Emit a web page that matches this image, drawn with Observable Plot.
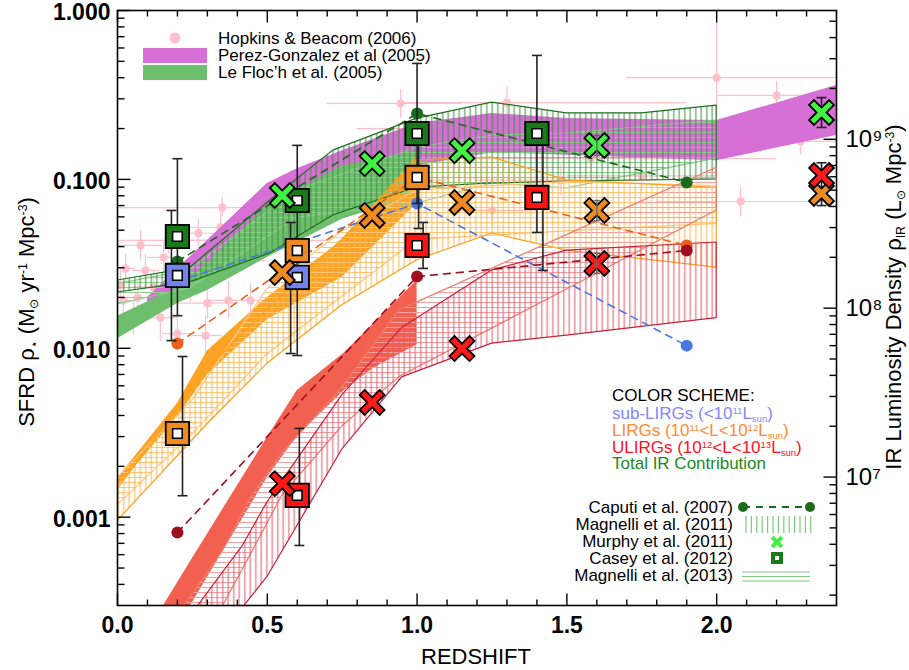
<!DOCTYPE html>
<html><head><meta charset="utf-8">
<script src="https://cdn.jsdelivr.net/npm/d3@7"></script>
<script src="https://cdn.jsdelivr.net/npm/@observablehq/plot@0.6"></script>
<style>
body{margin:0;background:#fff;}
#chart{width:909px;height:670px;}
</style></head><body><div id="chart"></div>
<script>
// ---------------- DATA ----------------
const xMajorTicks = [0, 0.5, 1.0, 1.5, 2.0];
const xMinorTicks = [0.1,0.2,0.3,0.4,0.6,0.7,0.8,0.9,1.1,1.2,1.3,1.4,1.6,1.7,1.8,1.9,2.1,2.2,2.3];
const yMajorTicks = [0.001, 0.01, 0.1, 1];
const yTickLabels = ["0.001", "0.010", "0.100", "1.000"];
const yMinorTicks = [4e-4,5e-4,6e-4,7e-4,8e-4,9e-4,2e-3,3e-3,4e-3,5e-3,6e-3,7e-3,8e-3,9e-3,0.02,0.03,0.04,0.05,0.06,0.07,0.08,0.09,0.2,0.3,0.4,0.5,0.6,0.7,0.8,0.9];
const rightMajorL = [1e7, 1e8, 1e9];
const rightTickLabels = ["10⁷", "10⁸", "10⁹"];
const rightMinorL = [2e6,3e6,4e6,5e6,6e6,7e6,8e6,9e6,2e7,3e7,4e7,5e7,6e7,7e7,8e7,9e7,2e8,3e8,4e8,5e8,6e8,7e8,8e8,9e8,2e9,3e9,4e9,5e9];
const sfrPerL = 1.728e-10;

// Hopkins & Beacom (2006): [z, sfrd, zlo, zhi, slo, shi]
const hopkins = [
  [0.01,0.0237,0.0,0.03,0.019,0.029],[0.02,0.0192,0.0,0.05,0.016,0.023],
  [0.027,0.0297,0.0,0.06,0.024,0.036],[0.053,0.0152,0.02,0.09,0.012,0.019],
  [0.067,0.0200,0.03,0.10,0.016,0.025],[0.077,0.0407,0.0,0.15,0.033,0.050],
  [0.093,0.0289,0.05,0.14,0.023,0.036],[0.12,0.0230,0.05,0.20,0.018,0.029],
  [0.143,0.0152,0.08,0.20,0.011,0.020],[0.154,0.0345,0.10,0.20,0.028,0.042],
  [0.17,0.0435,0.0,0.30,0.036,0.053],[0.20,0.0122,0.15,0.25,0.0095,0.0155],
  [0.244,0.0245,0.20,0.30,0.019,0.031],[0.27,0.0480,0.20,0.35,0.040,0.058],
  [0.294,0.0119,0.25,0.35,0.0092,0.0155],[0.30,0.0185,0.20,0.40,0.015,0.023],
  [0.344,0.0519,0.20,0.50,0.043,0.063],[0.37,0.0192,0.30,0.45,0.015,0.025],
  [0.377,0.0331,0.25,0.50,0.027,0.041],[0.444,0.0192,0.40,0.50,0.015,0.024],
  [0.46,0.0435,0.20,0.70,0.036,0.053],[0.35,0.068,0.0,0.95,0.060,0.078],
  [0.61,0.064,0.40,0.80,0.052,0.080],[0.85,0.099,0.60,1.10,0.080,0.122],
  [0.945,0.282,0.70,1.15,0.23,0.34],[1.0,0.20,0.80,1.20,0.17,0.24],
  [1.25,0.0655,1.10,1.40,0.053,0.080],[1.30,0.285,0.94,1.90,0.23,0.35],
  [1.48,0.099,1.20,1.80,0.080,0.122],[1.58,0.133,0.94,2.20,0.11,0.16],
  [1.75,0.105,1.50,2.00,0.085,0.13],[2.0,0.40,1.70,2.50,0.25,0.95],
  [2.2,0.314,2.0,2.5,0.26,0.38],[2.08,0.074,1.8,2.5,0.06,0.09],
  [2.28,0.168,2.0,2.5,0.14,0.20]
];

// bands: [z, lower, upper]
const perezGonzalez = [[0.10,0.0163,0.0200],[0.30,0.029,0.0435],[0.50,0.055,0.0946],[0.60,0.068,0.1157],[0.75,0.088,0.148],[1.00,0.120,0.214],[1.25,0.144,0.2457],[1.50,0.139,0.229],[2.00,0.129,0.223],[2.40,0.182,0.360]];
const leFloch = [[0.0,0.0114,0.0155],[0.2,0.0184,0.0229],[0.3,0.0220,0.0320],[0.5,0.0345,0.0700],[0.75,0.058,0.120],[1.0,0.080,0.145]];
const lirgSolid = [[0.0,0.00150,0.00170],[0.2,0.00390,0.00471],[0.3,0.00696,0.00965],[0.5,0.01474,0.0200],[0.75,0.0263,0.0435],[1.0,0.0720,0.1383]];
const ulirgSolid = [[0.0,0.0000569,0.000108],[0.1,0.0001125,0.000209],[0.154,0.000163,0.000300],[0.244,0.000300,0.000546],[0.344,0.000593,0.00106],[0.40,0.000869,0.00153],[0.50,0.00172,0.00296],[0.60,0.00301,0.00562],[0.755,0.00558,0.00931],[0.85,0.00755,0.0137],[1.0,0.0105,0.0252]];
const magnelli11Total = [[0,0.0214,0.0252],[0.24,0.0245,0.0297],[0.51,0.0364,0.075],[0.72,0.0612,0.148],[1.0,0.0895,0.229],[1.25,0.0946,0.285],[1.5,0.0972,0.2457],[1.75,0.0985,0.2457],[2.0,0.0999,0.2737]];
const magnelli13Total = [[0,0.0182,0.0240],[0.24,0.0226,0.0289],[0.6,0.0594,0.086],[1.0,0.072,0.154],[1.25,0.0946,0.182],[1.5,0.0884,0.187],[2.0,0.1326,0.223]];
const magnelli11Lirg = [[0,0.000948,0.00146],[0.3,0.00355,0.00752],[0.5,0.00809,0.01695],[0.75,0.0180,0.0439],[1.0,0.0332,0.1298],[1.25,0.0478,0.1348],[1.5,0.0379,0.0986],[2.0,0.0300,0.0892]];
const magnelli13Lirg = [[0,0.001175,0.001706],[0.25,0.00309,0.00492],[0.5,0.00920,0.0224],[0.75,0.0202,0.0492],[1.0,0.0439,0.0861],[1.5,0.0492,0.0965],[2.0,0.0545,0.0913]];
const magnelli11Ulirg = [[0.25,0.000156,0.000268],[0.42,0.000293,0.000684],[0.5,0.000441,0.00122],[0.75,0.00251,0.00526],[0.95,0.00673,0.0132],[1.25,0.01065,0.0289],[1.5,0.01187,0.0379],[2.0,0.01508,0.0423]];
const magnelli13Ulirg = [[0.22,0.000156,0.000293],[0.35,0.000293,0.000623],[0.45,0.000623,0.00134],[0.55,0.00134,0.00239],[0.75,0.00344,0.00583],[0.94,0.00673,0.01672],[1.5,0.0223,0.0468],[2.0,0.0655,0.1173]];

// Caputi et al. (2007): [z, sfrd]
const caputiTotal = [[0.2,0.0327],[1.0,0.2457],[1.9,0.0959]];
const caputiSub = [[0.2,0.0249],[1.0,0.072],[1.9,0.01037]];
const caputiLirg = [[0.2,0.01066],[1.0,0.1027],[1.9,0.0406]];
const caputiUlirg = [[0.2,0.000811],[1.0,0.0266],[1.9,0.0379]];

// Casey et al. (2012): [z, sfrd]
const caseyTotal = [[0.2,0.0459],[0.6,0.075],[1.0,0.187],[1.4,0.187]];
const caseySub = [[0.2,0.027],[0.6,0.0263]];
const caseyLirg = [[0.2,0.00313],[0.6,0.0379],[1.0,0.1027]];
const caseyUlirg = [[0.6,0.001346],[1.0,0.0406],[1.4,0.0782]];
// error bars [z, lo, hi]
const caseyErrors = [[0.2,0.0156,0.1326],[0.18,0.0111,0.0655],[0.217,0.00134,0.00894],[0.6,0.00906,0.159],[0.578,0.00931,0.0556],[0.607,0.00068,0.003355],[1.0,0.072,0.486],[1.005,0.0512,0.2056],[1.02,0.0297,0.0556],[1.4,0.0485,0.542],[1.42,0.0289,0.208]];

// Murphy et al. (2011): [z, sfrd]
const murphyTotal = [[0.55,0.0803],[0.85,0.124],[1.15,0.148],[1.6,0.1588],[2.35,0.249]];
const murphyLirg = [[0.55,0.0281],[0.85,0.0612],[1.15,0.073],[1.6,0.0655],[2.35,0.0826]];
const murphyUlirg = [[0.55,0.00158],[0.85,0.00478],[1.15,0.00996],[1.6,0.0318],[2.35,0.1055]];
const murphyErrorsBig = [[2.35,0.203,0.305],[2.35,0.070,0.1255]];
const murphyErrorsSmall = [[1.6,0.138,0.182],[1.6,0.057,0.075],[1.6,0.0277,0.0365]];

// ---------------- STYLE ----------------
const C = {
  pink: "#ffc0cb", violet: "#d66fd6", green: "#6dbf6d", orange: "#fca326", coral: "#f26150",
  gDark: "#1e6e1e", gLight: "#8fcf8f", gHatch: "#3a8f3a",
  oLine: "#ff9f1a", oHatch: "#ffb347", oLight: "#ffc880",
  rLine: "#cc1f3a", rHatch: "#e35565", rLight: "#f07a6e", rLightHatch: "#f5a0a0",
  capG: "#1c6b1c", capB: "#4a77e0", capO: "#e8601c", capR: "#9e0f22",
  casG: "#1a7a1a", casB: "#7482ee", casO: "#f08a20", casR: "#ff1414",
  murG: "#44f044", murO: "#f08a20", murR: "#ff1a1a"
};
const FONT = "'Liberation Sans', Arial, Helvetica, sans-serif";

const tickSym = (dx, dy) => ({draw(ctx, size){ const r = Math.sqrt(size/Math.PI); ctx.moveTo(0,0); ctx.lineTo(dx*r, dy*r); }});
const capSym = {draw(ctx, size){ const r = Math.sqrt(size/Math.PI); ctx.moveTo(-r,0); ctx.lineTo(r,0); }};
const xSym = {draw(ctx, size){
  const r = Math.sqrt(size/Math.PI), h = r*1.13, w = r*0.28, c = Math.SQRT1_2;
  const pts = [[-w,-h],[w,-h],[w,-w],[h,-w],[h,w],[w,w],[w,h],[-w,h],[-w,w],[-h,w],[-h,-w],[-w,-w]];
  pts.forEach(([x,y],i) => { const X=(x-y)*c, Y=(x+y)*c; i ? ctx.lineTo(X,Y) : ctx.moveTo(X,Y); });
  ctx.closePath();
}};

const band = (data, o) => Plot.areaY(data, {x: d=>d[0], y1: d=>d[1], y2: d=>d[2], clip: true, ...o});
const caputi = (data, col) => [
  Plot.line(data, {x: d=>d[0], y: d=>d[1], stroke: col, strokeWidth: 1.6, strokeDasharray: "7,6", clip: true}),
  Plot.dot(data, {x: d=>d[0], y: d=>d[1], r: 6, fill: col, stroke: "none"})
];
const casey = (data, col) => [
  Plot.dot(data, {x: d=>d[0], y: d=>d[1], symbol: "square", r: 13.2, fill: col, stroke: "black", strokeWidth: 1.8}),
  Plot.dot(data, {x: d=>d[0], y: d=>d[1], symbol: "square", r: 5.4, fill: "white", stroke: "black", strokeWidth: 1.6})
];
const murphy = (data, col) => Plot.dot(data, {x: d=>d[0], y: d=>d[1], symbol: xSym, r: 12.5, fill: col, stroke: "black", strokeWidth: 1.8});
const errbars = (data, col, w, capR) => [
  Plot.ruleX(data, {x: d=>d[0], y1: d=>d[1], y2: d=>d[2], stroke: col, strokeWidth: w}),
  Plot.dot(data, {x: d=>d[0], y: d=>d[1], symbol: capSym, r: capR, stroke: col, strokeWidth: w, fill: "none"}),
  Plot.dot(data, {x: d=>d[0], y: d=>d[2], symbol: capSym, r: capR, stroke: col, strokeWidth: w, fill: "none"})
];

const svg = Plot.plot({
  width: 909, height: 670,
  marginLeft: 117, marginRight: 73, marginTop: 10, marginBottom: 65,
  x: {domain: [0, 2.4], axis: null},
  y: {type: "log", domain: [3e-4, 1], axis: null},
  style: {fontFamily: FONT, background: "white", color: "black", overflow: "visible"},
  marks: [
    // Hopkins & Beacom compilation
    Plot.ruleY(hopkins, {y: d=>d[1], x1: d=>d[2], x2: d=>d[3], stroke: C.pink, strokeWidth: 1.2, clip: true}),
    Plot.ruleX(hopkins, {x: d=>d[0], y1: d=>d[4], y2: d=>d[5], stroke: C.pink, strokeWidth: 1.2, clip: true}),
    Plot.dot(hopkins, {x: d=>d[0], y: d=>d[1], r: 4.2, fill: C.pink, stroke: "none", clip: true}),
    // solid fills
    band(perezGonzalez, {fill: C.violet}),
    band(leFloch, {fill: C.green}),
    band(lirgSolid, {fill: C.orange}),
    band(ulirgSolid, {fill: C.coral}),
    // hatched bands
    band(magnelli13Total, {fill: "url(#hG)", stroke: C.gLight, strokeWidth: 1.2}),
    band(magnelli11Total, {fill: "url(#vG)", stroke: C.gDark, strokeWidth: 1.2}),
    band(magnelli13Lirg, {fill: "url(#hO)", stroke: C.oLight, strokeWidth: 1.2}),
    band(magnelli11Lirg, {fill: "url(#vO)", stroke: C.oLine, strokeWidth: 1.2}),
    band(magnelli13Ulirg, {fill: "url(#hR)", stroke: C.rLight, strokeWidth: 1.2}),
    band(magnelli11Ulirg, {fill: "url(#vR)", stroke: C.rLine, strokeWidth: 1.2}),
    // Caputi
    ...caputi(caputiSub, C.capB),
    ...caputi(caputiLirg, C.capO),
    ...caputi(caputiUlirg, C.capR),
    ...caputi(caputiTotal, C.capG),
    // error bars
    ...errbars(caseyErrors, "#222", 1.6, 5),
    ...errbars(murphyErrorsBig, "#222", 1.6, 5),
    // Casey squares
    ...casey(caseySub, C.casB),
    ...casey(caseyLirg, C.casO),
    ...casey(caseyUlirg, C.casR),
    ...casey(caseyTotal, C.casG),
    // Murphy crosses
    murphy(murphyLirg, C.murO),
    murphy(murphyUlirg, C.murR),
    murphy(murphyTotal, C.murG),
    ...errbars(murphyErrorsSmall, "#666", 1.4, 3),
    // frame & axes
    Plot.frame({stroke: "black", strokeWidth: 1.6}),
    Plot.dot(xMajorTicks, {x: d=>d, frameAnchor: "bottom", symbol: tickSym(0,-1), r: 12, stroke: "black", strokeWidth: 1.4, fill: "none"}),
    Plot.dot(xMinorTicks, {x: d=>d, frameAnchor: "bottom", symbol: tickSym(0,-1), r: 6, stroke: "black", strokeWidth: 1.4, fill: "none"}),
    Plot.dot(xMajorTicks, {x: d=>d, frameAnchor: "top", symbol: tickSym(0,1), r: 12, stroke: "black", strokeWidth: 1.4, fill: "none"}),
    Plot.dot(xMinorTicks, {x: d=>d, frameAnchor: "top", symbol: tickSym(0,1), r: 6, stroke: "black", strokeWidth: 1.4, fill: "none"}),
    Plot.dot(yMajorTicks, {y: d=>d, frameAnchor: "left", symbol: tickSym(1,0), r: 13, stroke: "black", strokeWidth: 1.4, fill: "none"}),
    Plot.dot(yMinorTicks, {y: d=>d, frameAnchor: "left", symbol: tickSym(1,0), r: 7, stroke: "black", strokeWidth: 1.4, fill: "none"}),
    Plot.dot(rightMajorL, {y: d=>d*sfrPerL, frameAnchor: "right", symbol: tickSym(-1,0), r: 13, stroke: "black", strokeWidth: 1.4, fill: "none"}),
    Plot.dot(rightMinorL, {y: d=>d*sfrPerL, frameAnchor: "right", symbol: tickSym(-1,0), r: 7, stroke: "black", strokeWidth: 1.4, fill: "none"}),
    Plot.text(xMajorTicks, {x: d=>d, frameAnchor: "bottom", dy: 27, text: d=>d.toFixed(1), fontSize: 23, fontWeight: "bold", fill: "black"}),
    Plot.text(yMajorTicks, {y: d=>d, frameAnchor: "left", dx: -7, dy: 2, text: (d,i)=>yTickLabels[i], textAnchor: "end", fontSize: 23, fontWeight: "bold", fill: "black"}),
    Plot.text(rightMajorL, {y: d=>d*sfrPerL, frameAnchor: "right", dx: 9, text: (d,i)=>rightTickLabels[i], textAnchor: "start", fontSize: 24, fill: "black"})
  ]
});

// ---------------- patterns ----------------
const S = d3.select(svg);
const defs = S.insert("defs", ":first-child");
function hatch(id, color, dir, sp, w) {
  const p = defs.append("pattern").attr("id", id).attr("patternUnits", "userSpaceOnUse").attr("width", sp).attr("height", sp);
  if (dir === "v") p.append("line").attr("x1", sp/2).attr("x2", sp/2).attr("y1", 0).attr("y2", sp).attr("stroke", color).attr("stroke-width", w);
  else p.append("line").attr("y1", sp/2).attr("y2", sp/2).attr("x1", 0).attr("x2", sp).attr("stroke", color).attr("stroke-width", w);
}
hatch("vG", C.gHatch, "v", 5.5, 1);
hatch("hG", C.gLight, "h", 5, 1);
hatch("vO", C.oHatch, "v", 5.5, 1);
hatch("hO", C.oLight, "h", 5, 1);
hatch("vR", C.rHatch, "v", 5.5, 1);
hatch("hR", C.rLightHatch, "h", 5, 1);

// ---------------- text helpers ----------------
function rich(parent, x, y, parts, size, fill, anchor) {
  const t = parent.append("text").attr("x", x).attr("y", y).attr("font-family", FONT)
    .attr("font-size", size).attr("fill", fill).attr("text-anchor", anchor || "start");
  let shift = 0;
  for (const [s, k] of parts) {
    const target = k === "sup" ? -0.32 : k === "sub" ? 0.2 : 0;
    t.append("tspan").attr("dy", ((target - shift) * size).toFixed(2))
      .attr("font-size", k ? size*0.56 : size).text(s);
    shift = target;
  }
  return t;
}

// axis titles
const gl = S.append("g").attr("transform", "translate(34,312) rotate(-90)");
rich(gl, 0, 0, [["SFRD ρ"],["⋆","sub"],[" (M"],["⊙","sub"],[" yr"],["-1","sup"],[" Mpc"],["-3","sup"],[")"]], 22, "black", "middle");
const gr = S.append("g").attr("transform", "translate(901,297) rotate(-90)");
rich(gr, 0, 0, [["IR Luminosity Density ρ"],["IR","sub"],[" (L"],["⊙","sub"],[" Mpc"],["-3","sup"],[")"]], 22, "black", "middle");
S.append("text").attr("x", 476).attr("y", 664).attr("text-anchor", "middle").attr("font-family", FONT).attr("font-size", 22).text("REDSHIFT");

// top-left legend
const L1 = S.append("g");
L1.append("circle").attr("cx", 175).attr("cy", 38).attr("r", 5.5).attr("fill", C.pink);
L1.append("rect").attr("x", 143).attr("y", 48).attr("width", 64).attr("height", 15).attr("fill", C.violet);
L1.append("rect").attr("x", 143).attr("y", 65).attr("width", 64).attr("height", 15).attr("fill", C.green);
[["Hopkins & Beacom (2006)", 38], ["Perez-Gonzalez et al (2005)", 55], ["Le Floc’h et al. (2005)", 72]].forEach(([s, y]) =>
  L1.append("text").attr("x", 218).attr("y", y).attr("dy", "0.36em").attr("text-anchor", "start").attr("font-family", FONT).attr("font-size", 17).text(s));

// colour scheme
const L2 = S.append("g");
rich(L2, 612, 401, [["COLOR SCHEME:"]], 17, "black");
rich(L2, 612, 419, [["sub-LIRGs (<10"],["11","sup"],["L"],["sun","sub"],[")"]], 17, "#8585ff");
rich(L2, 612, 436, [["LIRGs (10"],["11","sup"],["<L<10"],["12","sup"],["L"],["sun","sub"],[")"]], 17, "#ff8a30");
rich(L2, 612, 453, [["ULIRGs (10"],["12","sup"],["<L<10"],["13","sup"],["L"],["sun","sub"],[")"]], 17, "#ff1020");
rich(L2, 612, 469, [["Total IR Contribution"]], 17, "#208a20");

// symbol legend
const L3 = S.append("g");
[["Caputi et al. (2007)", 507], ["Magnelli et al. (2011)", 524], ["Murphy et al. (2011)", 541], ["Casey et al. (2012)", 558], ["Magnelli et al. (2013)", 575]].forEach(([s, y]) =>
  L3.append("text").attr("x", 733).attr("y", y).attr("dy", "0.36em").attr("text-anchor", "end").attr("font-family", FONT).attr("font-size", 17).text(s));
L3.append("line").attr("x1", 743).attr("x2", 810).attr("y1", 507).attr("y2", 507).attr("stroke", C.capG).attr("stroke-width", 1.8).attr("stroke-dasharray", "7,6");
L3.append("circle").attr("cx", 743).attr("cy", 507).attr("r", 5).attr("fill", C.capG);
L3.append("circle").attr("cx", 810).attr("cy", 507).attr("r", 5).attr("fill", C.capG);
d3.range(746, 812, 5.4).forEach(x => L3.append("line").attr("x1", x).attr("x2", x).attr("y1", 516).attr("y2", 533).attr("stroke", "#80c880").attr("stroke-width", 1.2));
L3.append("path").attr("transform", "translate(777,542) rotate(45)").attr("d", "M-2,-7H2V-2H7V2H2V7H-2V2H-7V-2H-2Z").attr("fill", C.murG);
L3.append("rect").attr("x", 771).attr("y", 552).attr("width", 12).attr("height", 12).attr("fill", C.casG);
L3.append("rect").attr("x", 775).attr("y", 556).attr("width", 4).attr("height", 4).attr("fill", "white");
[572, 576.5, 581].forEach(y => L3.append("line").attr("x1", 742).attr("x2", 810).attr("y1", y).attr("y2", y).attr("stroke", "#80c880").attr("stroke-width", 1.2));

document.getElementById("chart").appendChild(svg);
</script></body></html>
